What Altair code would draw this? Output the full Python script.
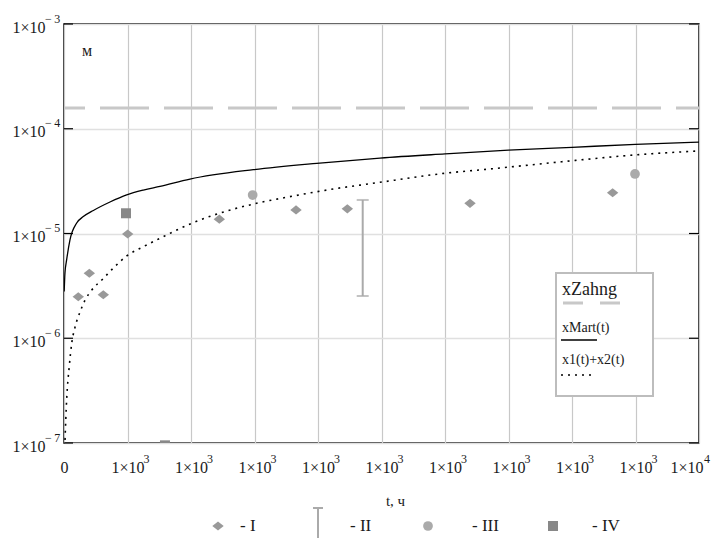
import altair as alt
import pandas as pd

# ---------------- data ----------------
t_mart = [3, 15, 42, 94, 200, 304, 462, 724, 987, 1249, 1512, 1984, 2982, 3980, 4976, 6000, 7000, 8000, 9000, 10000]
x_mart = [2.8e-6, 4.2e-6, 5.62e-6, 8.7e-6, 1.26e-5, 1.45e-5, 1.66e-5, 2.0e-5, 2.34e-5, 2.6e-5, 2.82e-5,
          3.31e-5, 4.07e-5, 4.68e-5, 5.25e-5, 5.75e-5, 6.24e-5, 6.65e-5, 7.1e-5, 7.46e-5]

t_sum = [16, 42, 83, 121, 170, 252, 330, 436, 619, 777, 987, 1249, 1512, 2037, 2446, 2982, 3612, 4137,
         4976, 6000, 6709, 8000, 8966, 10000]
x_sum = [1.07e-7, 2.6e-7, 5.4e-7, 8.9e-7, 1.25e-6, 1.78e-6, 2.3e-6, 2.88e-6, 3.72e-6, 4.68e-6, 6.1e-6,
         7.48e-6, 9.0e-6, 1.27e-5, 1.56e-5, 1.91e-5, 2.28e-5, 2.6e-5, 3.08e-5, 3.76e-5, 4.13e-5,
         4.95e-5, 5.61e-5, 6.14e-5]

x_zahng = [1.58e-4]

t_I = [225, 399, 619, 1003, 2446, 3654, 4462, 6394, 8640]
x_I = [2.49e-6, 4.17e-6, 2.6e-6, 9.9e-6, 1.37e-5, 1.68e-5, 1.72e-5, 1.94e-5, 2.45e-5]

t_II = [4704]
x_II_lo = [2.53e-6]
x_II_hi = [2.09e-5]

t_III = [2971, 8992]
x_III = [2.33e-5, 3.7e-5]

t_IV = [976, 1590]
x_IV = [1.56e-5, 9.5e-8]

x_ticks = [0, 1000, 2000, 3000, 4000, 5000, 6000, 7000, 8000, 9000, 10000]
x_tick_exp = ["", "3", "3", "3", "3", "3", "3", "3", "3", "3", "4"]
y_ticks = [1e-7, 1e-6, 1e-5, 1e-4, 1e-3]
y_tick_exp = ["−\u20097", "−\u20096", "−\u20095", "−\u20094", "−\u20093"]

legend_names = ["- I", "- II", "- III", "- IV"]
box_names = ["xZahng", "xMart(t)", "x1(t)+x2(t)"]
unit_label = "м"
x_title = "t, ч"

# ---------------- styling ----------------
FONT = "Liberation Serif"
W, H = 635, 419
INK = "#1a1a1a"

xscale = alt.Scale(domain=[0, 10000], nice=False, zero=False)
yscale = alt.Scale(type="log", domain=[1e-7, 1e-3], nice=False)

xaxis = alt.Axis(
    values=x_ticks,
    labelExpr="datum.value == 0 ? '0' : '1×10'",
    grid=True, gridColor="#c8c8c8", gridWidth=1.2,
    ticks=False, domain=False,
    labelFont=FONT, labelFontSize=16, labelColor=INK, labelPadding=16,
    labelFlush=True, labelFlushOffset=4,
    title=x_title, titleFont=FONT, titleFontSize=15, titleFontWeight="normal", titleColor=INK,
    titleX=331, titleY=57, titleBaseline="middle",
)
yaxis = alt.Axis(
    values=y_ticks,
    labelExpr="'1×10'",
    grid=True, gridColor="#e0e0e0", gridWidth=1.5,
    ticks=False, domain=False,
    labelFont=FONT, labelFontSize=16, labelColor=INK, labelPadding=19, labelOffset=3,
    title=None,
)


def X(field):
    return alt.X(field, type="quantitative", scale=xscale, axis=xaxis)


def Y(field):
    return alt.Y(field, type="quantitative", scale=yscale, axis=yaxis)


df_mart = pd.DataFrame({"t": t_mart, "v": x_mart})
df_sum = pd.DataFrame({"t": t_sum, "v": x_sum})
df_I = pd.DataFrame({"t": t_I, "v": x_I})
df_II = pd.DataFrame({"t": t_II, "lo": x_II_lo, "hi": x_II_hi})
df_III = pd.DataFrame({"t": t_III, "v": x_III})
df_IV = pd.DataFrame({"t": t_IV, "v": x_IV})
df_z = pd.DataFrame({"v": x_zahng})
df_yt = pd.DataFrame({"v": y_ticks, "e": y_tick_exp})
df_xt = pd.DataFrame({"t": x_ticks, "e": x_tick_exp})
one = pd.DataFrame({"k": [0]})

DIAMOND = "M-1,0L0,-0.8L1,0L0,0.8Z"

base_grid = alt.Chart(df_yt).mark_rule(opacity=0).encode(y=Y("v"), x=alt.value(0))
grid_x = alt.Chart(df_xt).mark_rule(opacity=0).encode(x=X("t"))

# exponents of the tick labels
y_exp = alt.Chart(df_yt).mark_text(font=FONT, fontSize=12, color=INK, align="left", baseline="middle",
                                   dy=-5.5).encode(y=Y("v"), x=alt.value(-19), text="e:N")
x_exp_mid = alt.Chart(df_xt).transform_filter("datum.t > 0 && datum.t < 10000").mark_text(
    font=FONT, fontSize=12, color=INK, align="left", baseline="middle", dx=16
).encode(x=X("t"), y=alt.value(H + 16), text="e:N")
x_exp_end = alt.Chart(df_xt).transform_filter("datum.t == 10000").mark_text(
    font=FONT, fontSize=12, color=INK, align="left", baseline="middle", dx=5
).encode(x=X("t"), y=alt.value(H + 16), text="e:N")

zahng = alt.Chart(df_z).mark_rule(color="#c8c8c8", strokeWidth=3, strokeDash=[49, 15],
                                  strokeDashOffset=28).encode(y=Y("v"), x=alt.value(0), x2=alt.value(W))

tick_left = alt.Chart(df_yt).mark_rule(color="black", strokeWidth=1.2).encode(
    y=Y("v"), x=alt.value(0), x2=alt.value(9))
tick_right = alt.Chart(df_yt).mark_rule(color="black", strokeWidth=1.2).encode(
    y=Y("v"), x=alt.value(W - 10), x2=alt.value(W))

mart = alt.Chart(df_mart).mark_line(color="black", strokeWidth=1.3, interpolate="monotone", clip=True).encode(
    x=X("t"), y=Y("v"))
ssum = alt.Chart(df_sum).mark_line(color="black", strokeWidth=1.6, strokeDash=[2, 5],
                                   interpolate="monotone", clip=True).encode(x=X("t"), y=Y("v"))

pts_I = alt.Chart(df_I).mark_point(shape=DIAMOND, filled=True, size=130, color="#999999", opacity=1,
                                   clip=True).encode(x=X("t"), y=Y("v"))
pts_III = alt.Chart(df_III).mark_point(shape="circle", filled=True, size=95, color="#aaaaaa", opacity=1,
                                       clip=True).encode(x=X("t"), y=Y("v"))
pts_IV = alt.Chart(df_IV).mark_point(shape="square", filled=True, size=100, color="#888888", opacity=1,
                                     clip=True).encode(x=X("t"), y=Y("v"))
err_II = alt.Chart(df_II).mark_rule(color="#aaaaaa", strokeWidth=2).encode(x=X("t"), y=Y("lo"), y2="hi")
cap_lo = alt.Chart(df_II).mark_tick(color="#aaaaaa", orient="horizontal", size=12, thickness=2).encode(
    x=X("t"), y=Y("lo"))
cap_hi = alt.Chart(df_II).mark_tick(color="#aaaaaa", orient="horizontal", size=12, thickness=2).encode(
    x=X("t"), y=Y("hi"))


def txt(s, x, y, size=14, align="left"):
    return alt.Chart(one).mark_text(text=s, font=FONT, fontSize=size, color=INK, align=align,
                                    baseline="middle").encode(x=alt.value(x), y=alt.value(y))


def hrule(x1, x2, y, **kw):
    return alt.Chart(one).mark_rule(**kw).encode(x=alt.value(x1), x2=alt.value(x2), y=alt.value(y))


# in-plot legend box
box = alt.Chart(one).mark_rect(fill="white", stroke="#bdbdbd", strokeWidth=2).encode(
    x=alt.value(492), x2=alt.value(589), y=alt.value(249), y2=alt.value(372))
box_layers = [
    box,
    txt(box_names[0], 498, 266, 18),
    hrule(499, 556, 279, color="#c8c8c8", strokeWidth=3, strokeDash=[20, 17]),
    txt(box_names[1], 498, 304, 14),
    hrule(497, 533, 316, color="black", strokeWidth=1.3),
    txt(box_names[2], 498, 336, 14),
    hrule(497, 527, 351, color="black", strokeWidth=1.6, strokeDash=[2, 5]),
]

# bottom legend
LY = 502
leg_layers = [
    alt.Chart(one).mark_point(shape=DIAMOND, filled=True, size=130, color="#999999", opacity=1).encode(
        x=alt.value(154), y=alt.value(LY)),
    txt(legend_names[0], 176, LY, 17),
    alt.Chart(one).mark_rule(color="#aaaaaa", strokeWidth=2).encode(
        x=alt.value(254), y=alt.value(484), y2=alt.value(540)),
    hrule(249, 259, 484, color="#aaaaaa", strokeWidth=2),
    txt(legend_names[1], 286, LY, 17),
    alt.Chart(one).mark_point(shape="circle", filled=True, size=95, color="#aaaaaa", opacity=1).encode(
        x=alt.value(364), y=alt.value(LY)),
    txt(legend_names[2], 408, LY, 17),
    alt.Chart(one).mark_point(shape="square", filled=True, size=100, color="#888888", opacity=1).encode(
        x=alt.value(489), y=alt.value(LY)),
    txt(legend_names[3], 528, LY, 17),
]

unit = txt(unit_label, 18, 27, 16)

chart = alt.layer(
    base_grid, grid_x, zahng, tick_left, tick_right, mart, ssum,
    err_II, cap_lo, cap_hi, pts_I, pts_III, pts_IV, unit, y_exp, x_exp_mid, x_exp_end,
    *box_layers, *leg_layers,
).properties(
    width=W, height=H,
    autosize=alt.AutoSizeParams(type="none"),
    padding={"left": 56, "top": 16, "right": 17, "bottom": 95},
    background="white",
).configure_view(stroke="black", strokeWidth=1.5)

chart.save("out.html", embed_options={"renderer": "svg", "actions": False})
